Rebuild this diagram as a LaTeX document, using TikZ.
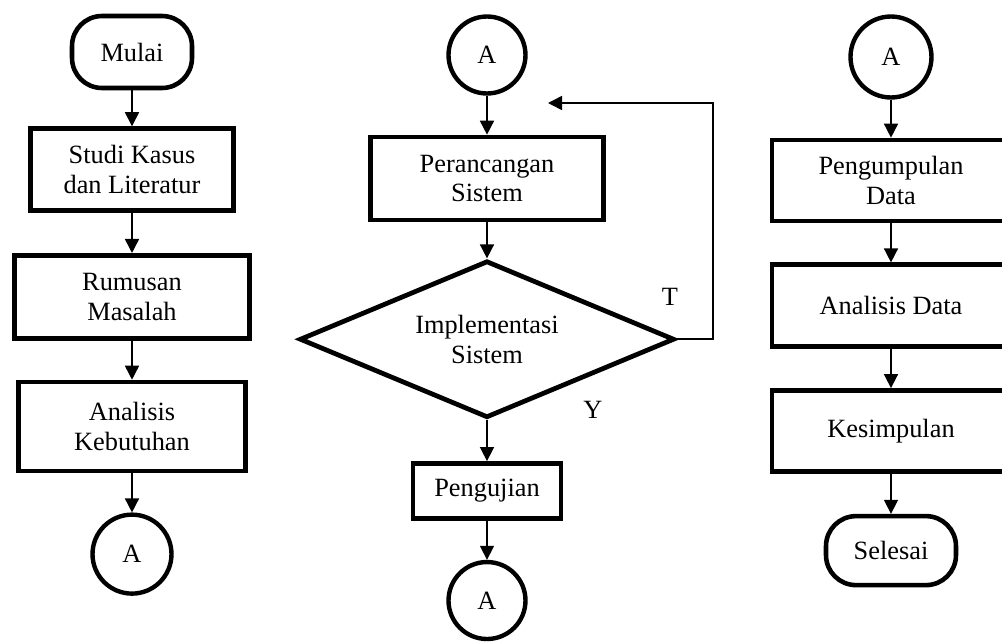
\documentclass[tikz,border=0pt]{standalone}
\usepackage{fontspec}
\setmainfont{Liberation Serif}
\usetikzlibrary{shapes.geometric, positioning, arrows.meta}

\begin{document}
\begin{tikzpicture}[x=0.02cm, y=-0.02cm, node distance = 0.78cm,
        font=\fontsize{15}{17}\selectfont,
        proses/.style={draw, rectangle, line width=2.7pt, align=center},
        terminal/.style={draw, rectangle, rounded corners=0.6cm, line width=2.6pt},
        konektor/.style={draw, circle, line width=2.5pt, inner sep=0pt},
        keputusan/.style={draw, diamond, aspect=2.35, line width=2.7pt, align=center, inner sep=0pt},
        panah/.style={-{Triangle[width=8pt,length=8pt]}, line width=0.9pt}]
        \useasboundingbox (0,0) rectangle (1002,643);

        % kolom kiri
        \node[terminal, minimum width=2.4cm, minimum height=1.44cm] (mulai) at (132,52) {Mulai};
        \node[proses, minimum width=4.06cm, minimum height=1.64cm] (studi) [below = 0.72cm of mulai] {Studi Kasus\\dan Literatur};
        \node[proses, minimum width=4.7cm, minimum height=1.66cm] (rumusan) [below = 0.8cm of studi] {Rumusan\\Masalah};
        \node[proses, minimum width=4.54cm, minimum height=1.78cm] (kebutuhan) [below = of rumusan] {Analisis\\Kebutuhan};
        \node[konektor, minimum size=1.58cm] (a1) [below = of kebutuhan] {A};

        % kolom tengah
        \node[konektor, minimum size=1.54cm] (a2) at (487,55) {A};
        \node[proses, minimum width=4.66cm, minimum height=1.66cm] (rancang) [below = of a2] {Perancangan\\Sistem};
        \node[keputusan, minimum width=7.5cm, minimum height=3.14cm] (implementasi) [below = 0.72cm of rancang] {Implementasi\\Sistem};
        \node[proses, minimum width=2.96cm, minimum height=1.1cm] (uji) [below = 0.82cm of implementasi] {Pengujian};
        \node[konektor, minimum size=1.54cm] (a3) [below = of uji] {A};
        \node (labelT) at (670,297) {T};
        \node (labelY) at (593,410) {Y};
        \coordinate (balik) at (548,103);

        % kolom kanan
        \node[konektor, minimum size=1.62cm] (a4) at (891,57) {A};
        \node[proses, minimum width=4.76cm, minimum height=1.62cm] (kumpul) [below = 0.76cm of a4] {Pengumpulan\\Data};
        \node[proses, minimum width=4.76cm, minimum height=1.64cm] (analisis) [below = of kumpul] {Analisis Data};
        \node[proses, minimum width=4.76cm, minimum height=1.62cm] (simpulan) [below = of analisis] {Kesimpulan};
        \node[terminal, minimum width=2.6cm, minimum height=1.38cm] (selesai) [below = 0.8cm of simpulan] {Selesai};

        \draw[panah] (mulai) edge (studi);
        \draw[panah] (studi) edge (rumusan);
        \draw[panah] (rumusan) edge (kebutuhan);
        \draw[panah] (kebutuhan) edge (a1);

        \draw[panah] (a2) edge (rancang);
        \draw[panah] (rancang) edge (implementasi);
        \draw[panah] (implementasi) edge (uji);
        \draw[panah] (uji) edge (a3);
        \draw[panah] (implementasi.east) -- ++(36,0) |- (balik);

        \draw[panah] (a4) edge (kumpul);
        \draw[panah] (kumpul) edge (analisis);
        \draw[panah] (analisis) edge (simpulan);
        \draw[panah] (simpulan) edge (selesai);

    \end{tikzpicture}
\end{document}
